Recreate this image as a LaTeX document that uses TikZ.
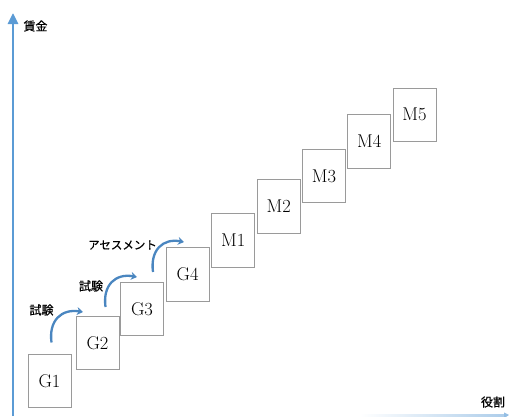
\documentclass[tikz,border=0pt]{standalone}
\usepackage{fontspec}
\newfontfamily\jpfont[FakeBold=0.5]{Noto Sans CJK JP}
\usetikzlibrary{arrows.meta,calc}
\definecolor{axisblue}{HTML}{5B9BD5}
\definecolor{stepblue}{HTML}{4A86C0}
\definecolor{boxgray}{HTML}{9A9A9A}
\tikzset{
  gradebox/.style={draw=boxgray,line width=0.9pt,fill=white,minimum width=43pt,minimum height=53.5pt,inner sep=0pt,font=\fontsize{18.5}{20}\selectfont},
  jplabel/.style={font=\jpfont\fontsize{12}{13}\selectfont,inner sep=0pt},
  steparrow/.style={stepblue,line width=2.3pt,-{Stealth[length=6pt,width=8pt]}},
  axisline/.style={axisblue,line width=2.6pt}
}
\begin{document}
\begin{tikzpicture}[x=1pt,y=-1pt]
\useasboundingbox (0,0) rectangle (509,416);

% axes
\coordinate (ybase) at (13,416);
\coordinate (ytop) at (13,13);
\draw[axisline,-{Triangle[length=11pt,width=10pt]}] (ybase) -- (ytop);
\shade[left color=white,right color=axisblue!50] (360,414) rectangle (505,416);
\coordinate (xend) at (509,414.9);
\coordinate (xtip) at (504,414.9);
\fill[axisblue!65] (xtip) ++(0,-2.5) -- (xend) -- ++(-5,3.5) -- cycle;
\node[jplabel] (ylab) at (35.5,26) {賃金};
\node[jplabel] (xlab) at (493,402) {役割};

% grade steps
\node[gradebox] (G1) at (49.5,381) {G1};
\node[gradebox] (G2) at (97.5,343) {G2};
\node[gradebox] (G3) at (142,309) {G3};
\node[gradebox] (G4) at (187.7,274.3) {G4};
\node[gradebox] (M1) at (233.2,240.5) {M1};
\node[gradebox] (M2) at (278.8,206.2) {M2};
\node[gradebox] (M3) at (324,176) {M3};
\node[gradebox] (M4) at (369.3,141.2) {M4};
\node[gradebox] (M5) at (414.5,114.8) {M5};

% promotion requirements
\node[jplabel] (t1) at (41.5,310) {試験};
\node[jplabel] (t2) at (91,286) {試験};
\node[jplabel,font=\jpfont\fontsize{11.5}{13}\selectfont] (t3) at (122.5,245) {アセスメント};

\coordinate (s1) at (51.5,342.5);
\coordinate (e1) at (83,312);
\coordinate (s2) at (105.5,307);
\coordinate (e2) at (137,277);
\coordinate (s3) at (153,272);
\coordinate (e3) at (184,242);
\draw[steparrow] (s1) .. controls ($(s1)+(-3,-22)$) and ($(s1)+(10,-34)$) .. (e1);
\draw[steparrow] (s2) .. controls ($(s2)+(-3,-22)$) and ($(s2)+(10,-34)$) .. (e2);
\draw[steparrow] (s3) .. controls ($(s3)+(-3,-22)$) and ($(s3)+(10,-34)$) .. (e3);
\end{tikzpicture}
\end{document}
